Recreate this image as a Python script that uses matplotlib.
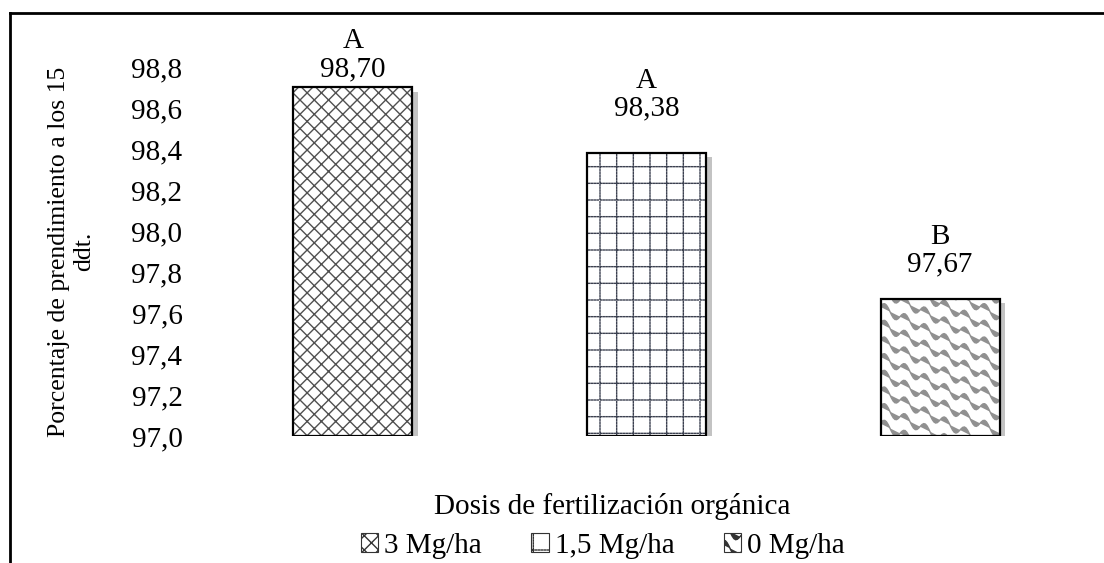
import numpy as np
import matplotlib
matplotlib.use("Agg")
import matplotlib.pyplot as plt
import matplotlib.hatch as mhatch
import matplotlib.patheffects as pe
from matplotlib.path import Path
from matplotlib.patches import Patch
from matplotlib.lines import Line2D
from matplotlib.ticker import FuncFormatter

# ---- data ----
categories = ["3 Mg/ha", "1,5 Mg/ha", "0 Mg/ha"]
values = [98.70, 98.38, 97.67]
letters = ["A", "A", "B"]
yticks = [97.0, 97.2, 97.4, 97.6, 97.8, 98.0, 98.2, 98.4, 98.6, 98.8]


# ---- custom hatch patterns (lattice, dotted grid, shingle waves) ----
_orig_get_path = mhatch.get_path


def _lattice(n):
    verts, codes = [], []
    for k in range(-n, n + 1):
        t = k / n
        verts += [(t, 0), (t + 1, 1), (t, 1), (t + 1, 0)]
        codes += [Path.MOVETO, Path.LINETO, Path.MOVETO, Path.LINETO]
    return Path(np.array(verts, dtype=float), codes)


def _dotted_grid(n, m=34, frac=0.45):
    verts, codes = [], []
    for k in range(n + 1):
        c = k / n
        for j in range(m):
            a = j / m
            b = a + frac / m
            verts += [(a, c), (b, c), (c, a), (c, b)]
            codes += [Path.MOVETO, Path.LINETO, Path.MOVETO, Path.LINETO]
    return Path(np.array(verts, dtype=float), codes)


def _waves(nv, nh, pts=60):
    verts, codes = [], []
    xs = np.linspace(0, 1, pts)
    for k in range(int(1.5 * nv) + 1):
        y0 = k / nv
        ys = y0 - 0.5 * xs + (0.32 / nv) * np.sin(2 * np.pi * nh * xs)
        for i, (a, b) in enumerate(zip(xs, ys)):
            verts.append((a, b))
            codes.append(Path.MOVETO if i == 0 else Path.LINETO)
    return Path(np.array(verts, dtype=float), codes)


def _custom_get_path(hatchpattern, density=6):
    if hatchpattern == 'x':
        return _lattice(7)
    if hatchpattern == '+':
        return _dotted_grid(6)
    if hatchpattern == 'O':
        return _waves(6, 5)
    return _orig_get_path(hatchpattern, density)


mhatch.get_path = _custom_get_path

plt.rcParams['font.family'] = ['Liberation Serif', 'DejaVu Serif']
plt.rcParams['hatch.linewidth'] = 1.0

fig = plt.figure(figsize=(11.04, 5.63), dpi=100)
ax = fig.add_axes([0.1866, 0.2256, 0.798, 0.6555])

x = np.arange(len(categories))
hatches = ['x', '+', 'O']
hatch_colors = ['#505050', '#3c4150', '#909090']
width = 0.405

shadow = [pe.SimplePatchShadow(offset=(4, -3), shadow_rgbFace='#888888', alpha=0.5),
          pe.Normal()]

for i in range(len(categories)):
    ax.bar(x[i], values[i] - 97.0, bottom=97.0, width=width, color='white',
           edgecolor='none', path_effects=shadow, zorder=2)
    ax.bar(x[i], values[i] - 97.0, bottom=97.0, width=width, color='white',
           edgecolor=hatch_colors[i], hatch=hatches[i], linewidth=0, zorder=3)
    ax.bar(x[i], values[i] - 97.0, bottom=97.0, width=width, fill=False,
           edgecolor='black', linewidth=1.6, zorder=4)

label_offsets = [4, 23, 15]
for i in range(len(categories)):
    ax.annotate(f"{letters[i]}\n{values[i]:.2f}".replace('.', ','),
                xy=(x[i], values[i]), xytext=(0, label_offsets[i]),
                textcoords='offset points', ha='center', va='bottom',
                fontsize=21, linespacing=1.08, annotation_clip=False, zorder=5)

ax.set_xlim(-0.5, 2.5)
ax.set_ylim(97.0, 98.8)
ax.set_yticks(yticks)
ax.yaxis.set_major_formatter(FuncFormatter(lambda v, p: f"{v:.1f}".replace('.', ',')))
ax.set_xticks([])
ax.tick_params(axis='y', length=0, labelsize=21, pad=17)
for s in ax.spines.values():
    s.set_visible(False)

ax.set_ylabel("Porcentaje de prendimiento a los 15\nddt.", fontsize=18.5,
              linespacing=1.15)
ax.yaxis.set_label_coords(-0.126, 0.5)

fig.text(0.555, 0.101, "Dosis de fertilización orgánica", fontsize=21,
         ha='center', va='center')

handles = [Patch(facecolor='white', edgecolor=hatch_colors[i], hatch=hatches[i],
                 linewidth=0.8) for i in range(3)]
leg = fig.legend(handles, categories, loc='center', bbox_to_anchor=(0.546, 0.031),
                 ncol=3, frameon=False, fontsize=21, handlelength=0.6,
                 handleheight=0.6, handletextpad=0.2, columnspacing=1.7,
                 borderpad=0.0)
for h in leg.legend_handles:
    h.set_edgecolor('#333333')

fig.add_artist(Line2D([10 / 1104, 1.0], [1 - 13 / 563, 1 - 13 / 563],
                      transform=fig.transFigure, color='black', linewidth=2))
fig.add_artist(Line2D([10 / 1104, 10 / 1104], [1 - 13 / 563, 0.0],
                      transform=fig.transFigure, color='black', linewidth=2))

fig.savefig("out.png", dpi=100)
